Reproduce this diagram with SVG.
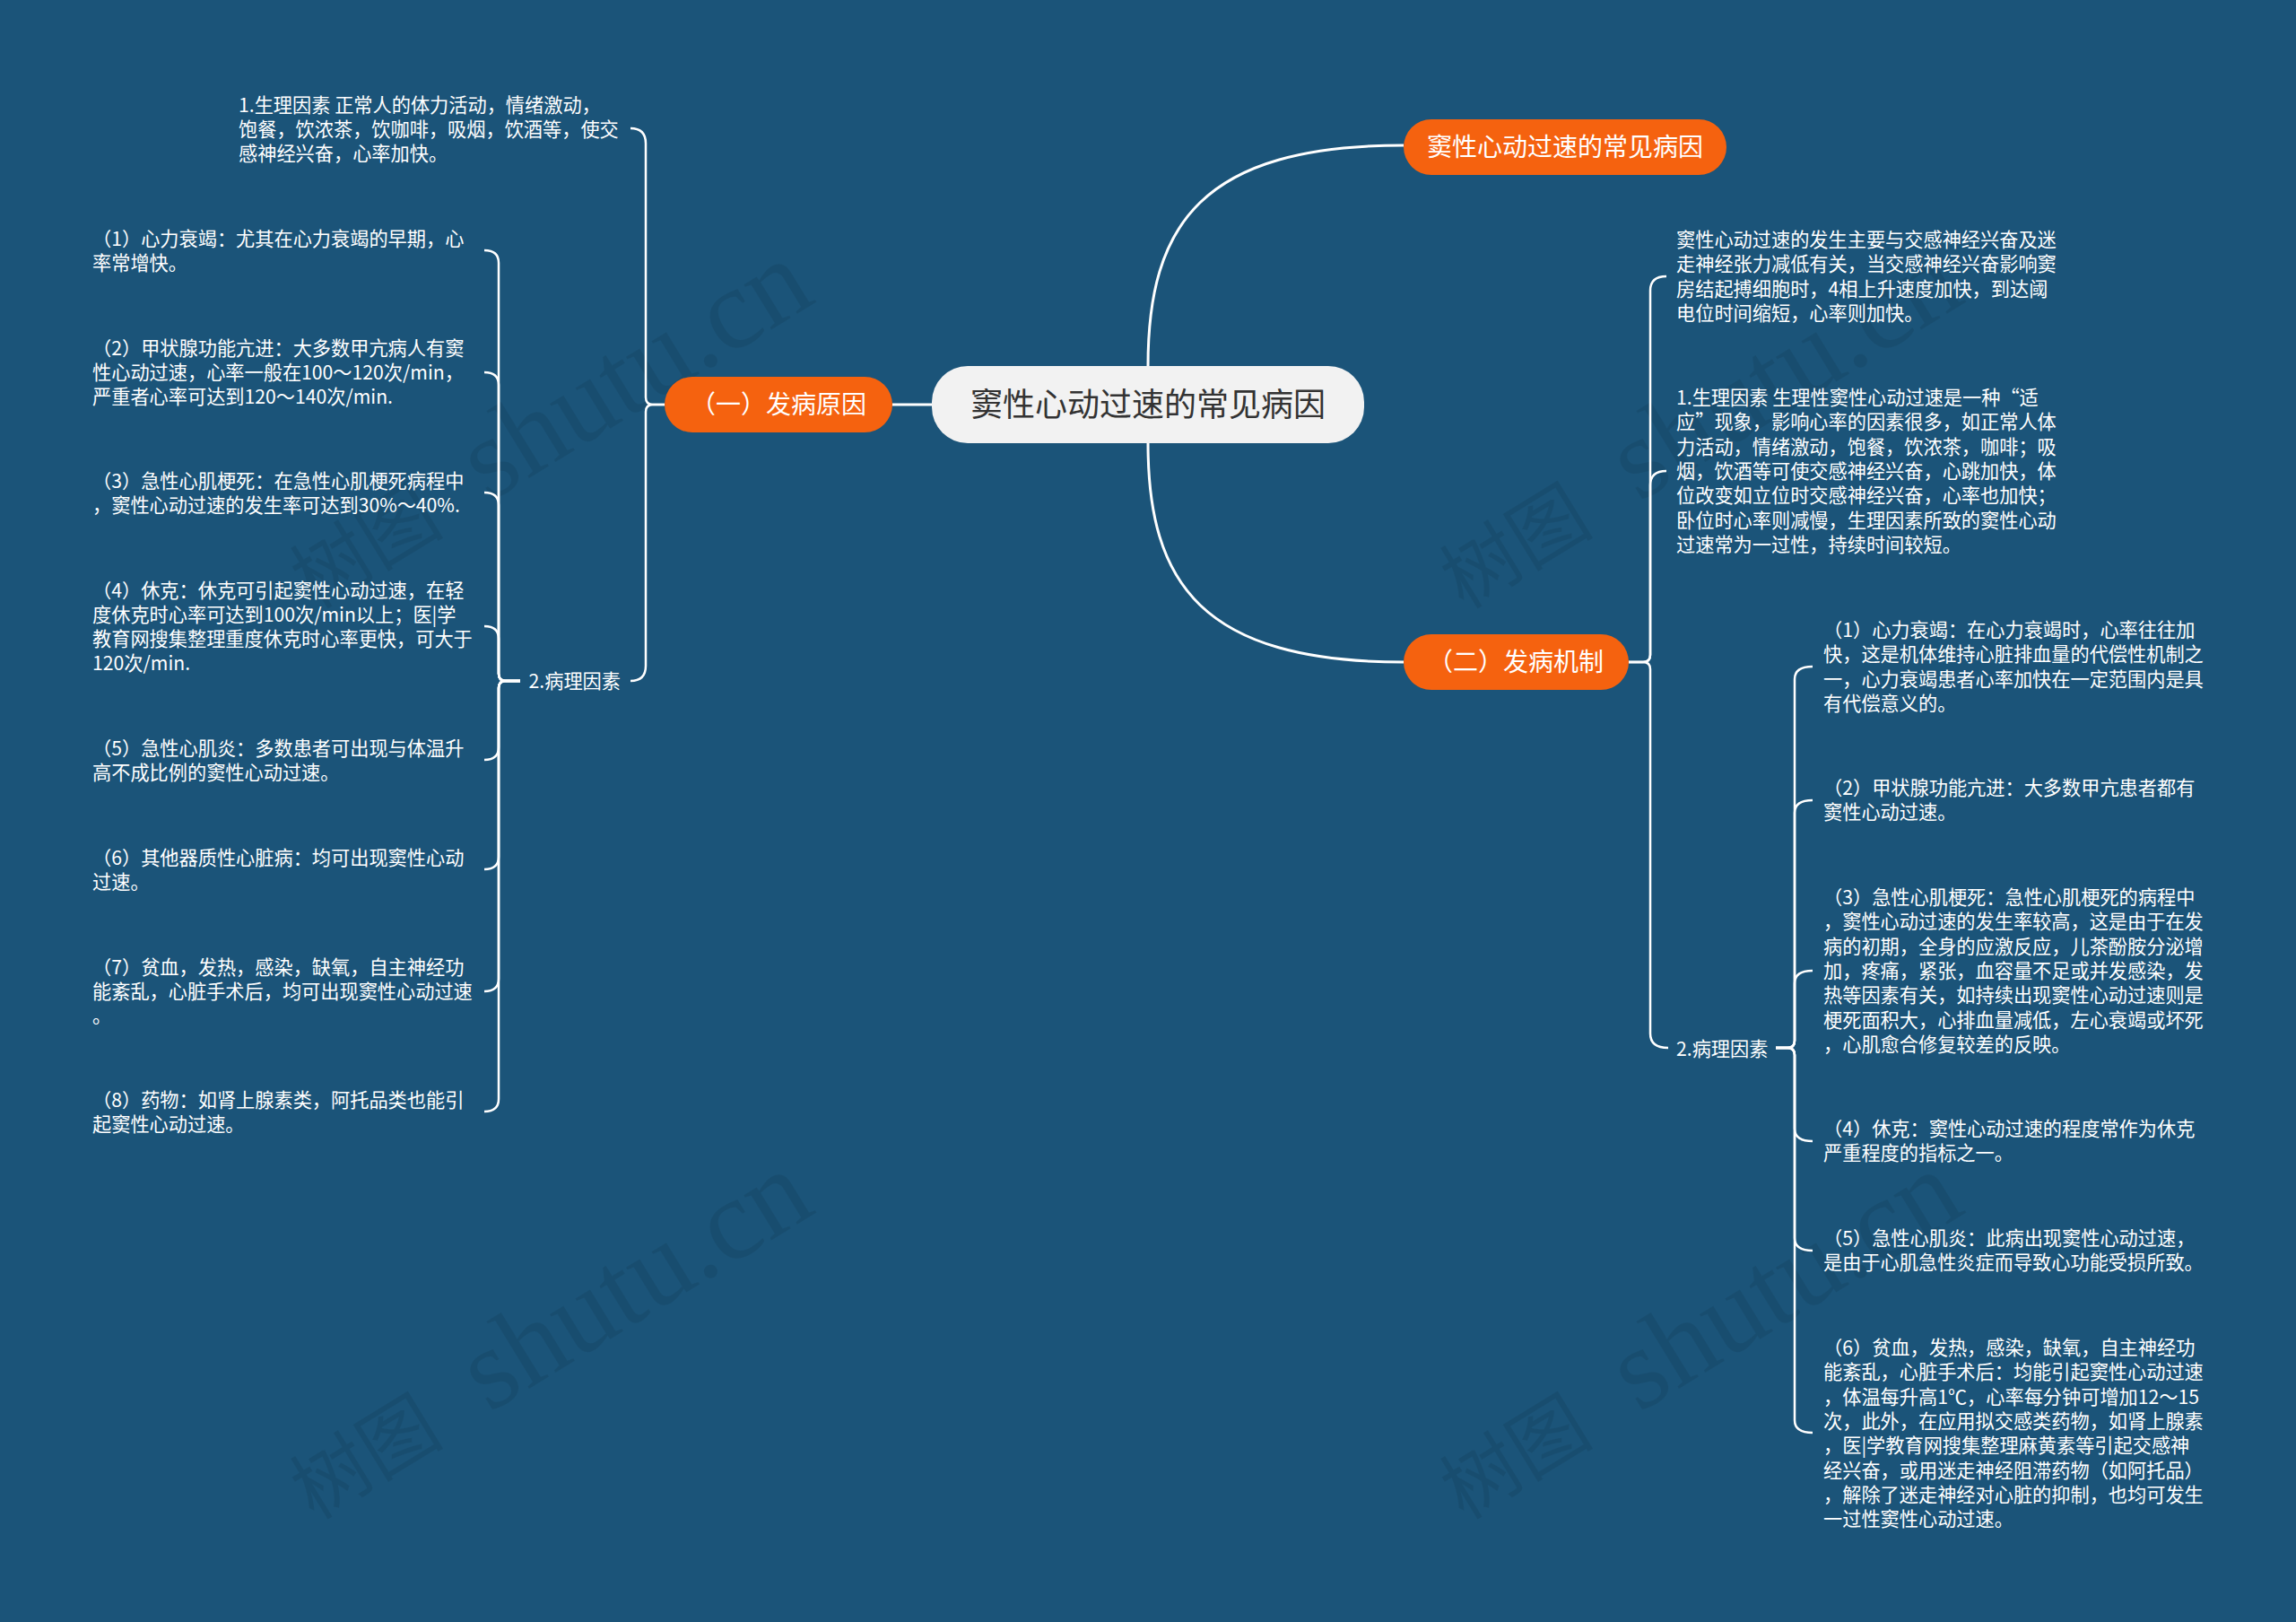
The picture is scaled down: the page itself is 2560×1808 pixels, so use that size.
<svg xmlns="http://www.w3.org/2000/svg" width="2560" height="1808" viewBox="0 0 2560 1808">
<style>
.t{font-family:"Noto Sans CJK SC","Noto Sans",sans-serif;font-size:21.2px;fill:#ffffff}
.n1{font-family:"Noto Sans CJK SC","Noto Sans",sans-serif;font-size:28px;fill:#ffffff;text-anchor:middle}
.n0{font-family:"Noto Sans CJK SC","Noto Sans",sans-serif;font-size:36px;fill:#333333;text-anchor:middle}
.main{fill:none;stroke:#ffffff;stroke-width:3}
.br{fill:none;stroke:#ffffff;stroke-width:2.5}
.or{fill:#F5620F}
.wm{font-family:"Liberation Serif","Noto Sans CJK SC",serif;fill:#000000;fill-opacity:0.08}
</style>
<rect x="0" y="0" width="2560" height="1808" fill="#1B5479"/>

<g id="watermarks">
<g transform="translate(350,680) rotate(-31.5)"><text class="wm" x="0" y="0" font-size="86">树图</text><text class="wm" x="229" y="0" font-size="128">shutu.cn</text></g>
<g transform="translate(1632,680) rotate(-31.5)"><text class="wm" x="0" y="0" font-size="86">树图</text><text class="wm" x="229" y="0" font-size="128">shutu.cn</text></g>
<g transform="translate(350,1695) rotate(-31.5)"><text class="wm" x="0" y="0" font-size="86">树图</text><text class="wm" x="229" y="0" font-size="128">shutu.cn</text></g>
<g transform="translate(1632,1695) rotate(-31.5)"><text class="wm" x="0" y="0" font-size="86">树图</text><text class="wm" x="229" y="0" font-size="128">shutu.cn</text></g>
</g>

<g id="connectors">
<path class="main" d="M995,451 L1039,451"/>
<path class="main" d="M1280,408 C1280,250 1340,162 1565,162"/>
<path class="main" d="M1280,494 C1280,650 1340,738 1565,738"/>
<!-- left main bracket -->
<path class="br" d="M741,451 L728,451 Q720,451 720,443 L720,160 Q720,143 703,143"/>
<path class="br" d="M741,451 L728,451 Q720,451 720,459 L720,742 Q720,759 703,759"/>
<!-- left sub bracket -->
<path class="br" d="M580,759 L564,759 Q556,759 556,751 L556,293 Q556,279 540,279"/>
<path class="br" d="M580,759 L564,759 Q556,759 556,751 L556,429 Q556,415 540,415"/>
<path class="br" d="M580,759 L564,759 Q556,759 556,751 L556,563 Q556,549 540,549"/>
<path class="br" d="M580,759 L564,759 Q556,759 556,751 L556,712 Q556,698 540,698"/>
<path class="br" d="M580,759 L564,759 Q556,759 556,767 L556,833 Q556,847 540,847"/>
<path class="br" d="M580,759 L564,759 Q556,759 556,767 L556,955 Q556,969 540,969"/>
<path class="br" d="M580,759 L564,759 Q556,759 556,767 L556,1091 Q556,1105 540,1105"/>
<path class="br" d="M580,759 L564,759 Q556,759 556,767 L556,1225 Q556,1239 540,1239"/>
<!-- right main bracket -->
<path class="br" d="M1816,738 L1832,738 Q1840,738 1840,730 L1840,324 Q1840,308 1858,308"/>
<path class="br" d="M1816,738 L1832,738 Q1840,738 1840,730 L1840,541 Q1840,525 1858,525"/>
<path class="br" d="M1816,738 L1832,738 Q1840,738 1840,746 L1840,1152 Q1840,1168 1860,1168"/>
<!-- right sub bracket -->
<path class="br" d="M1980,1168 L1993,1168 Q2001,1168 2001,1160 L2001,757 Q2001,743 2021,743"/>
<path class="br" d="M1980,1168 L1993,1168 Q2001,1168 2001,1160 L2001,906 Q2001,892 2021,892"/>
<path class="br" d="M1980,1168 L1993,1168 Q2001,1168 2001,1160 L2001,1096 Q2001,1082 2021,1082"/>
<path class="br" d="M1980,1168 L1993,1168 Q2001,1168 2001,1176 L2001,1258 Q2001,1272 2021,1272"/>
<path class="br" d="M1980,1168 L1993,1168 Q2001,1168 2001,1176 L2001,1380 Q2001,1394 2021,1394"/>
<path class="br" d="M1980,1168 L1993,1168 Q2001,1168 2001,1176 L2001,1583 Q2001,1597 2021,1597"/>
</g>

<g id="root">
<rect x="1039" y="408" width="482" height="86" rx="40" fill="#F2F2F2"/>
<text class="n0" x="1280" y="464">窦性心动过速的常见病因</text>
</g>

<g id="node-cause">
<rect class="or" x="741" y="420" width="254" height="62" rx="31"/>
<text class="n1" x="868" y="461">（一）发病原因</text>
</g>

<g id="node-title2">
<rect class="or" x="1565" y="133" width="360" height="62" rx="31"/>
<text class="n1" x="1745" y="174">窦性心动过速的常见病因</text>
</g>

<g id="node-mech">
<rect class="or" x="1565" y="707" width="251" height="62" rx="31"/>
<text class="n1" x="1690" y="748">（二）发病机制</text>
</g>

<g id="left-physio">
<text class="t"><tspan x="266" y="125">1.生理因素 正常人的体力活动，情绪激动，</tspan><tspan x="266" y="152">饱餐，饮浓茶，饮咖啡，吸烟，饮酒等，使交</tspan><tspan x="266" y="179">感神经兴奋，心率加快。</tspan></text>
</g>

<g id="left-patho">
<text class="t" x="692" y="767" text-anchor="end">2.病理因素</text>
</g>

<g id="left-1">
<text class="t"><tspan x="103" y="274">（1）心力衰竭：尤其在心力衰竭的早期，心</tspan><tspan x="103" y="301">率常增快。</tspan></text>
</g>
<g id="left-2">
<text class="t"><tspan x="103" y="396">（2）甲状腺功能亢进：大多数甲亢病人有窦</tspan><tspan x="103" y="423">性心动过速，心率一般在100～120次/min，</tspan><tspan x="103" y="450">严重者心率可达到120～140次/min.</tspan></text>
</g>
<g id="left-3">
<text class="t"><tspan x="103" y="544">（3）急性心肌梗死：在急性心肌梗死病程中</tspan><tspan x="103" y="571">，窦性心动过速的发生率可达到30%～40%.</tspan></text>
</g>
<g id="left-4">
<text class="t"><tspan x="103" y="666">（4）休克：休克可引起窦性心动过速，在轻</tspan><tspan x="103" y="693">度休克时心率可达到100次/min以上；医|学</tspan><tspan x="103" y="720">教育网搜集整理重度休克时心率更快，可大于</tspan><tspan x="103" y="747">120次/min.</tspan></text>
</g>
<g id="left-5">
<text class="t"><tspan x="103" y="842">（5）急性心肌炎：多数患者可出现与体温升</tspan><tspan x="103" y="869">高不成比例的窦性心动过速。</tspan></text>
</g>
<g id="left-6">
<text class="t"><tspan x="103" y="964">（6）其他器质性心脏病：均可出现窦性心动</tspan><tspan x="103" y="991">过速。</tspan></text>
</g>
<g id="left-7">
<text class="t"><tspan x="103" y="1086">（7）贫血，发热，感染，缺氧，自主神经功</tspan><tspan x="103" y="1113">能紊乱，心脏手术后，均可出现窦性心动过速</tspan><tspan x="103" y="1140">。</tspan></text>
</g>
<g id="left-8">
<text class="t"><tspan x="103" y="1234">（8）药物：如肾上腺素类，阿托品类也能引</tspan><tspan x="103" y="1261">起窦性心动过速。</tspan></text>
</g>

<g id="right-intro">
<text class="t"><tspan x="1869" y="275">窦性心动过速的发生主要与交感神经兴奋及迷</tspan><tspan x="1869" y="302">走神经张力减低有关，当交感神经兴奋影响窦</tspan><tspan x="1869" y="330">房结起搏细胞时，4相上升速度加快，到达阈</tspan><tspan x="1869" y="357">电位时间缩短，心率则加快。</tspan></text>
</g>
<g id="right-physio">
<text class="t"><tspan x="1869" y="451">1.生理因素 生理性窦性心动过速是一种“适</tspan><tspan x="1869" y="478">应”现象，影响心率的因素很多，如正常人体</tspan><tspan x="1869" y="506">力活动，情绪激动，饱餐，饮浓茶，咖啡；吸</tspan><tspan x="1869" y="533">烟，饮酒等可使交感神经兴奋，心跳加快，体</tspan><tspan x="1869" y="560">位改变如立位时交感神经兴奋，心率也加快；</tspan><tspan x="1869" y="588">卧位时心率则减慢，生理因素所致的窦性心动</tspan><tspan x="1869" y="615">过速常为一过性，持续时间较短。</tspan></text>
</g>
<g id="right-patho">
<text class="t" x="1869" y="1177">2.病理因素</text>
</g>

<g id="right-1">
<text class="t"><tspan x="2033" y="710">（1）心力衰竭：在心力衰竭时，心率往往加</tspan><tspan x="2033" y="737">快，这是机体维持心脏排血量的代偿性机制之</tspan><tspan x="2033" y="765">一，心力衰竭患者心率加快在一定范围内是具</tspan><tspan x="2033" y="792">有代偿意义的。</tspan></text>
</g>
<g id="right-2">
<text class="t"><tspan x="2033" y="886">（2）甲状腺功能亢进：大多数甲亢患者都有</tspan><tspan x="2033" y="913">窦性心动过速。</tspan></text>
</g>
<g id="right-3">
<text class="t"><tspan x="2033" y="1008">（3）急性心肌梗死：急性心肌梗死的病程中</tspan><tspan x="2033" y="1035">，窦性心动过速的发生率较高，这是由于在发</tspan><tspan x="2033" y="1063">病的初期，全身的应激反应，儿茶酚胺分泌增</tspan><tspan x="2033" y="1090">加，疼痛，紧张，血容量不足或并发感染，发</tspan><tspan x="2033" y="1117">热等因素有关，如持续出现窦性心动过速则是</tspan><tspan x="2033" y="1145">梗死面积大，心排血量减低，左心衰竭或坏死</tspan><tspan x="2033" y="1172">，心肌愈合修复较差的反映。</tspan></text>
</g>
<g id="right-4">
<text class="t"><tspan x="2033" y="1266">（4）休克：窦性心动过速的程度常作为休克</tspan><tspan x="2033" y="1293">严重程度的指标之一。</tspan></text>
</g>
<g id="right-5">
<text class="t"><tspan x="2033" y="1388">（5）急性心肌炎：此病出现窦性心动过速，</tspan><tspan x="2033" y="1415">是由于心肌急性炎症而导致心功能受损所致。</tspan></text>
</g>
<g id="right-6">
<text class="t"><tspan x="2033" y="1510">（6）贫血，发热，感染，缺氧，自主神经功</tspan><tspan x="2033" y="1537">能紊乱，心脏手术后：均能引起窦性心动过速</tspan><tspan x="2033" y="1565">，体温每升高1℃，心率每分钟可增加12～15</tspan><tspan x="2033" y="1592">次，此外，在应用拟交感类药物，如肾上腺素</tspan><tspan x="2033" y="1619">，医|学教育网搜集整理麻黄素等引起交感神</tspan><tspan x="2033" y="1647">经兴奋，或用迷走神经阻滞药物（如阿托品）</tspan><tspan x="2033" y="1674">，解除了迷走神经对心脏的抑制，也均可发生</tspan><tspan x="2033" y="1701">一过性窦性心动过速。</tspan></text>
</g>
</svg>
